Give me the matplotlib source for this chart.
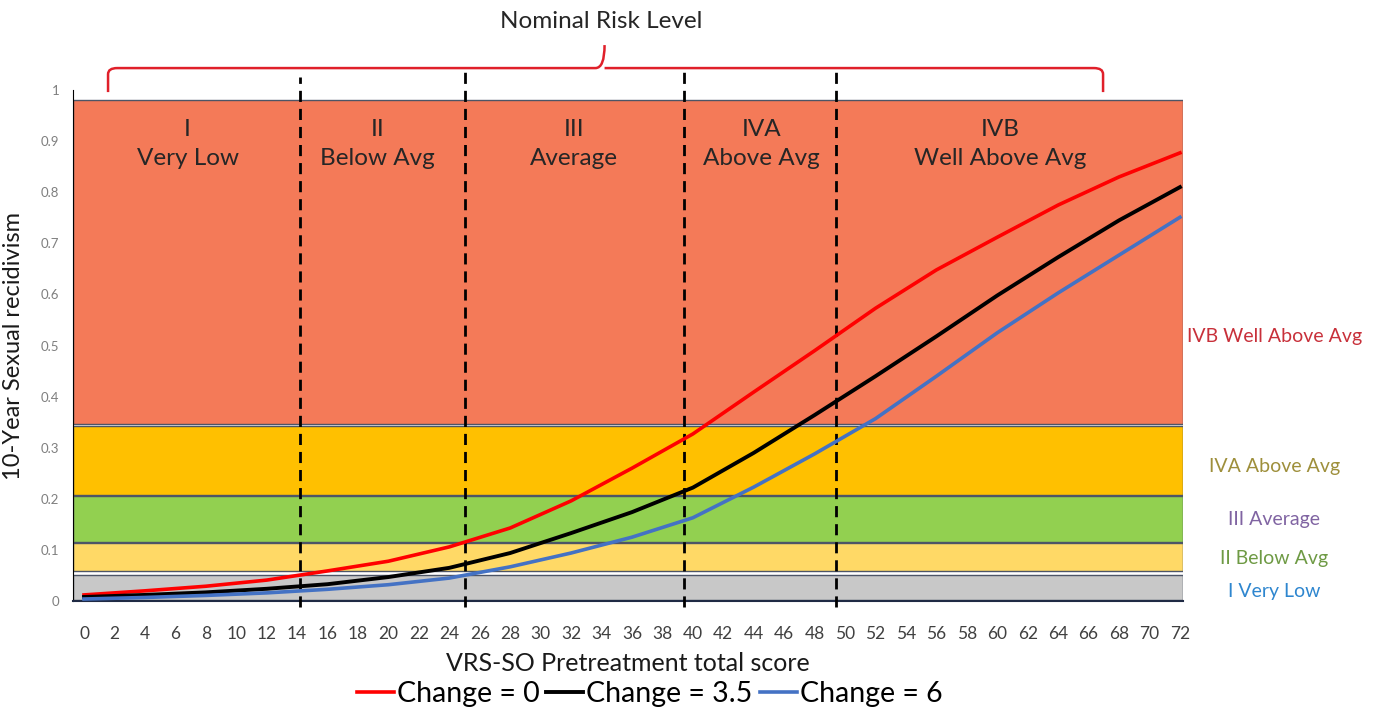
import numpy as np
import matplotlib
matplotlib.use("Agg")
import matplotlib.pyplot as plt
from matplotlib.patches import Rectangle, PathPatch
from matplotlib.path import Path

plt.rcParams["font.family"] = ["Lato", "DejaVu Sans"]

# data
score = [0, 4, 8, 12, 16, 20, 24, 28, 32, 36, 40, 44, 48, 52, 56, 60, 64, 68, 72]
change_0 = [0.012, 0.020, 0.029, 0.041, 0.059, 0.078, 0.106, 0.143, 0.196, 0.260,
            0.327, 0.409, 0.490, 0.573, 0.648, 0.712, 0.775, 0.830, 0.877]
change_35 = [0.008, 0.012, 0.017, 0.024, 0.033, 0.047, 0.065, 0.094, 0.133, 0.174,
             0.222, 0.290, 0.364, 0.440, 0.518, 0.598, 0.673, 0.745, 0.810]
change_6 = [0.004, 0.007, 0.011, 0.016, 0.023, 0.032, 0.045, 0.067, 0.094, 0.125,
            0.163, 0.223, 0.288, 0.357, 0.440, 0.525, 0.603, 0.677, 0.751]

# risk bands (y ranges) and colours
band_lo = [0.002, 0.059, 0.115, 0.207, 0.347]
band_hi = [0.051, 0.114, 0.206, 0.343, 0.980]
band_col = ["#C8C8C8", "#FFD966", "#92D050", "#FFC000", "#F47A58"]
band_names = ["I Very Low", "II Below Avg", "III Average", "IVA Above Avg", "IVB Well Above Avg"]
band_label_y = [0.018, 0.084, 0.159, 0.264, 0.517]
band_label_col = ["#2E86CF", "#6E9A44", "#8064A2", "#9E8F3B", "#C8303A"]

# nominal risk level cut points on the score axis
cuts = [14.2, 25, 39.4, 49.4]
cut_top = [1.025, 1.043, 1.043, 1.043]
level_names = ["I\nVery Low", "II\nBelow Avg", "III\nAverage", "IVA\nAbove Avg", "IVB\nWell Above Avg"]
level_x = [6.8, 19.3, 32.2, 44.5, 60.2]

fig = plt.figure(figsize=(13.73, 7.13), dpi=100)
ax = fig.add_axes([0.0532, 0.157, 0.8084, 0.7167])
ax.set_xlim(-0.72, 72.2)
ax.set_ylim(0, 1)

for lo, hi, c in zip(band_lo, band_hi, band_col):
    ax.add_patch(Rectangle((-0.72, lo), 72.92, hi - lo, facecolor=c,
                           edgecolor="#4D5566", linewidth=1, zorder=1))

for x, top in zip(cuts, cut_top):
    ax.plot([x, x], [-0.012, top], color="black", linestyle=(0, (4, 2.5)),
            linewidth=2, zorder=3, clip_on=False)

ax.plot(score, change_0, color="#FF0000", linewidth=2.6, zorder=4, label="Change = 0")
ax.plot(score, change_35, color="black", linewidth=2.8, zorder=4, label="Change = 3.5")
ax.plot(score, change_6, color="#4472C4", linewidth=2.6, zorder=4, label="Change = 6")

for x, name in zip(level_x, level_names):
    ax.text(x, 0.894, name, ha="center", va="center", fontsize=17.5,
            color="#262626", linespacing=1.5, zorder=5)

for y, name, c in zip(band_label_y, band_names, band_label_col):
    ax.text(78.2, y, name, ha="center", va="center", fontsize=14, color=c, clip_on=False)

# curly bracket over the chart
x0, x1, xm = 1.58, 66.95, 34.2
yb, yt, yh = 0.996, 1.043, 1.088
r = 0.6
verts = [(x0, yb), (x0, yt - 0.012), (x0, yt), (x0 + r, yt),
         (xm - r, yt), (xm, yt), (xm, yh),
         (xm, yt), (xm + r, yt),
         (x1 - r, yt), (x1, yt), (x1, yt - 0.012), (x1, yb)]
codes = [Path.MOVETO, Path.LINETO, Path.CURVE3, Path.CURVE3,
         Path.LINETO, Path.CURVE3, Path.CURVE3,
         Path.MOVETO, Path.CURVE3,
         Path.LINETO, Path.CURVE3, Path.CURVE3, Path.LINETO]
ax.add_patch(PathPatch(Path(verts, codes), facecolor="none", edgecolor="#E0202A",
                       linewidth=1.8, clip_on=False))
ax.text(34.0, 1.135, "Nominal Risk Level", ha="center", va="center", fontsize=17.5,
        color="#262626")

ax.set_xticks(range(0, 73, 2))
ax.set_yticks(np.arange(0, 1.01, 0.1))
ax.set_yticklabels(["0", "0.1", "0.2", "0.3", "0.4", "0.5", "0.6", "0.7", "0.8", "0.9", "1"])
ax.tick_params(axis="x", length=0, pad=18, labelsize=12.5, labelcolor="#404040")
ax.tick_params(axis="y", length=0, pad=10, labelsize=9.5, labelcolor="#7F7F7F")
for s in ["top", "right"]:
    ax.spines[s].set_visible(False)
ax.spines["left"].set_color("black")
ax.spines["bottom"].set_color("#1F2A44")
ax.spines["bottom"].set_linewidth(1.5)

ax.set_xlabel("VRS-SO Pretreatment total score", fontsize=18, color="#1A1A1A", labelpad=7)
ax.set_ylabel("10-Year Sexual recidivism", fontsize=17, color="#1A1A1A", labelpad=12)

fig.legend(loc="center", bbox_to_anchor=(0.473, 0.026), ncol=3, frameon=False,
           fontsize=20.5, handlelength=1.3, handletextpad=0.1, columnspacing=0.25)

fig.savefig("out.png", dpi=100)
